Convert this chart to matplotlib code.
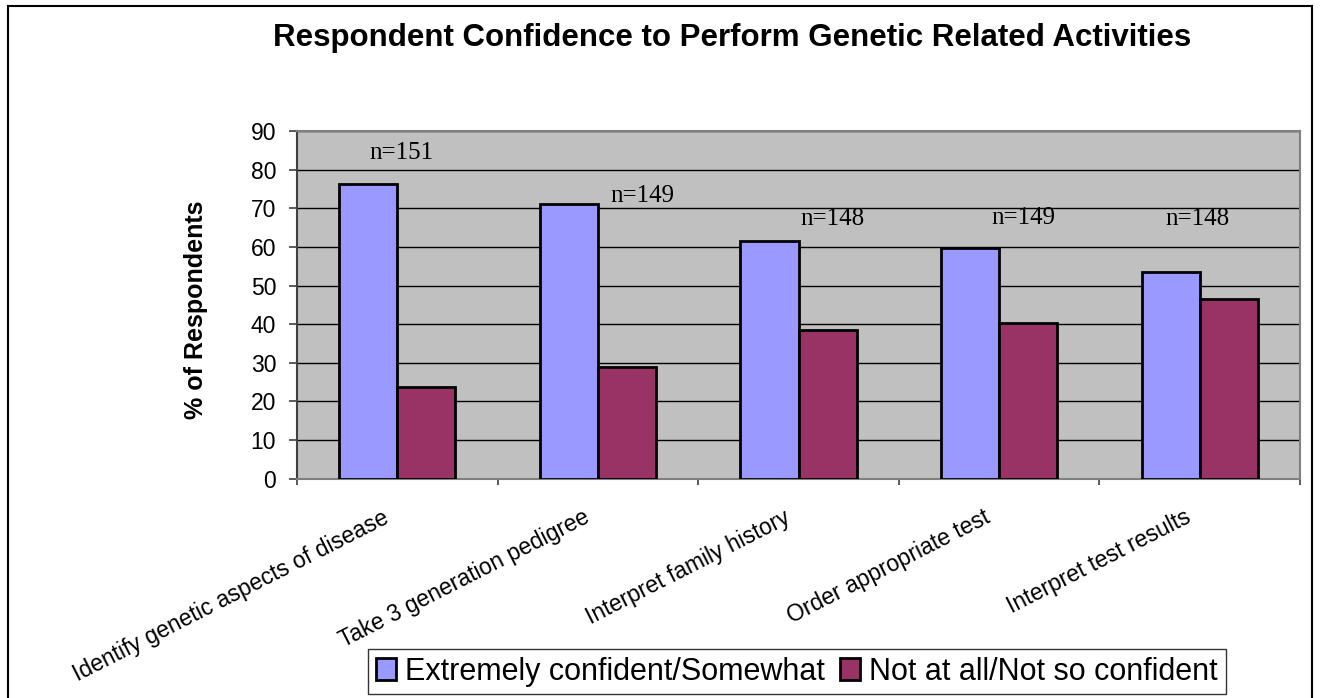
import numpy as np
import matplotlib
matplotlib.use("Agg")
import matplotlib.pyplot as plt
import matplotlib.transforms as mtransforms
from matplotlib.patches import Rectangle

categories = ["Identify genetic aspects of disease", "Take 3 generation pedigree",
              "Interpret family history", "Order appropriate test", "Interpret test results"]
confident = [76.2, 71.0, 61.4, 59.7, 53.4]
not_confident = [23.8, 29.0, 38.6, 40.3, 46.6]
series_names = ["Extremely confident/Somewhat", "Not at all/Not so confident"]
n_labels = ["n=151", "n=149", "n=148", "n=149", "n=148"]
y_ticks = list(range(0, 100, 10))

plt.rcParams['font.family'] = ['Liberation Sans', 'DejaVu Sans']

fig = plt.figure(figsize=(13.28, 6.98), dpi=100)
ax = fig.add_axes([297/1328, 1 - 478.7/698, (1300 - 297)/1328, (478.7 - 131)/698])

x = np.arange(len(categories))
w = 0.29
ax.bar(x - w, confident, width=w, align='edge', color='#9999FF',
       edgecolor='black', linewidth=2, label=series_names[0], zorder=3)
ax.bar(x, not_confident, width=w, align='edge', color='#993366',
       edgecolor='black', linewidth=2, label=series_names[1], zorder=3)

# sample size notes (placed where the original puts them)
n_label_pos = [(0.02, 84.2), (1.22, 73.2), (2.17, 67.3), (3.12, 67.4), (3.99, 67.3)]
for txt, (px, py) in zip(n_labels, n_label_pos):
    ax.text(px, py, txt, ha='center', va='center', fontsize=18,
            family=['Liberation Serif', 'DejaVu Serif'], zorder=4)

ax.set_facecolor('#C0C0C0')
ax.set_xlim(-0.5, len(categories) - 0.5)
ax.set_ylim(0, 90)
ax.set_yticks(y_ticks)
ax.tick_params(axis='y', direction='out', length=6, width=1.2, color='#404040',
               labelsize=16.5, pad=9)
ax.yaxis.grid(True, color='black', linewidth=1)
ax.set_axisbelow(True)

# boundary ticks without labels, category labels on minor ticks
ax.set_xticks(np.arange(-0.5, len(categories), 1.0))
ax.set_xticklabels([])
ax.tick_params(axis='x', which='major', direction='out', length=4.5, width=1.2, color='#404040')
ax.set_xticks(x, minor=True)
ax.set_xticklabels(categories, minor=True)
ax.tick_params(axis='x', which='minor', length=0, pad=19.5, labelsize=16.5)
offset = mtransforms.ScaledTranslation(-11/72, 0, fig.dpi_scale_trans)
for lab in ax.get_xticklabels(minor=True):
    lab.set_rotation(27)
    lab.set_ha('right')
    lab.set_va('top')
    lab.set_rotation_mode('anchor')
    lab.set_transform(lab.get_transform() + offset)

for side in ['top', 'right', 'bottom']:
    ax.spines[side].set_color('#808080')
    ax.spines[side].set_linewidth(1.5)
ax.spines['left'].set_color('#404040')
ax.spines['left'].set_linewidth(1.5)

fig.text(732/1328, 1 - 38/698, "Respondent Confidence to Perform Genetic Related Activities",
         ha='center', va='center', fontsize=22.5, fontweight='bold')
fig.text(196/1328, 1 - 310/698, "% of Respondents", rotation=90,
         ha='center', va='center', fontsize=18, fontweight='bold')

leg = fig.legend(loc='upper center', bbox_to_anchor=(797/1328, 1 - 649/698), ncol=2,
                 fontsize=22, frameon=True, fancybox=False, edgecolor='black',
                 handlelength=0.65, handleheight=0.7, handletextpad=0.3,
                 columnspacing=0.5, borderpad=0.25, borderaxespad=0)
leg.get_frame().set_linewidth(1.0)

fig.add_artist(Rectangle((8/1328, -0.02), (1312 - 8)/1328, 1 - 6/698 + 0.02,
                         transform=fig.transFigure, fill=False,
                         edgecolor='black', linewidth=1.5))

fig.savefig("out.png", dpi=100)
